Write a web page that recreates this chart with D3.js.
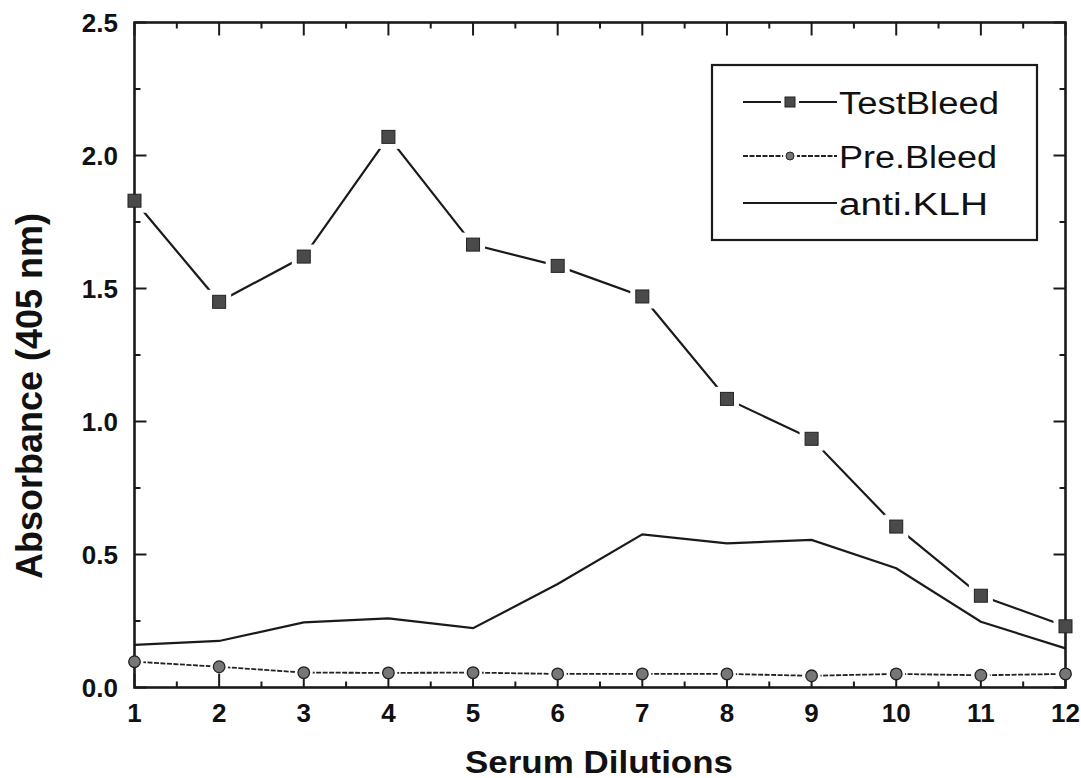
<!DOCTYPE html>
<html>
<head>
<meta charset="utf-8">
<script src="https://cdn.jsdelivr.net/npm/d3@7"></script>
<style>
  html, body { margin: 0; padding: 0; background: #fff; }
  svg { display: block; }
  text { font-family: "Liberation Sans", Arial, sans-serif; fill: #111; }
</style>
</head>
<body>
<svg id="chart" width="1081" height="778"></svg>
<script>
// ---- data ----
const dilutions = [1, 2, 3, 4, 5, 6, 7, 8, 9, 10, 11, 12];
const testBleed = [1.83, 1.45, 1.62, 2.07, 1.665, 1.585, 1.47, 1.085, 0.935, 0.605, 0.345, 0.23];
const preBleed  = [0.097, 0.078, 0.056, 0.055, 0.056, 0.051, 0.051, 0.051, 0.044, 0.051, 0.046, 0.051];
const antiKLH   = [0.16, 0.175, 0.245, 0.26, 0.223, 0.389, 0.576, 0.542, 0.555, 0.448, 0.247, 0.147];
const yTicks = [0.0, 0.5, 1.0, 1.5, 2.0, 2.5];
const yTickLabels = ["0.0", "0.5", "1.0", "1.5", "2.0", "2.5"];
const seriesNames = ["TestBleed", "Pre.Bleed", "anti.KLH"];
const xTitle = "Serum Dilutions";
const yTitle = "Absorbance (405 nm)";

// ---- layout ----
const svg = d3.select("#chart");
const L = 134.5, R = 1065.5, T = 22.5, B = 687.5;
const x = d3.scaleLinear().domain([1, 12]).range([L, R]);
const y = d3.scaleLinear().domain([0, 2.5]).range([B, T]);

const ink = "#1a1a1a";

// ---- lines ----
const line = d3.line().x(d => x(d[0])).y(d => y(d[1]));
const zip = arr => dilutions.map((d, i) => [d, arr[i]]);

svg.append("path").datum(zip(antiKLH)).attr("d", line)
  .attr("fill", "none").attr("stroke", ink).attr("stroke-width", 2.2);

svg.append("path").datum(zip(preBleed)).attr("d", line)
  .attr("fill", "none").attr("stroke", "#222").attr("stroke-width", 1.8)
  .attr("stroke-dasharray", "5,1.5");

svg.append("path").datum(zip(testBleed)).attr("d", line)
  .attr("fill", "none").attr("stroke", ink).attr("stroke-width", 2.2);

// halos (gaps around markers)
svg.append("g").selectAll("rect").data(zip(testBleed)).join("rect")
  .attr("x", d => x(d[0]) - 12).attr("y", d => y(d[1]) - 12)
  .attr("width", 24).attr("height", 24).attr("fill", "#fff");
svg.append("g").selectAll("circle").data(zip(preBleed)).join("circle")
  .attr("cx", d => x(d[0])).attr("cy", d => y(d[1])).attr("r", 9).attr("fill", "#fff");

// ---- axes / frame ----
const axisW = 2.6;
const majorX = dilutions;
const minorX = d3.range(1.5, 12, 1);
const majorY = yTicks;
const minorY = d3.range(0.25, 2.5, 0.5);
const ticks = svg.append("g").attr("stroke", ink);

ticks.selectAll(".bM").data(majorX).join("line")
  .attr("x1", d => x(d)).attr("x2", d => x(d)).attr("y1", B).attr("y2", B - 14).attr("stroke-width", 2);
ticks.selectAll(".bm").data(minorX).join("line")
  .attr("x1", d => x(d)).attr("x2", d => x(d)).attr("y1", B).attr("y2", B - 6).attr("stroke-width", 2);
ticks.selectAll(".tM").data(majorX).join("line")
  .attr("x1", d => x(d)).attr("x2", d => x(d)).attr("y1", T).attr("y2", T + 13).attr("stroke-width", 2);
ticks.selectAll(".tm").data(minorX).join("line")
  .attr("x1", d => x(d)).attr("x2", d => x(d)).attr("y1", T).attr("y2", T + 6).attr("stroke-width", 2);
ticks.selectAll(".lM").data(majorY).join("line")
  .attr("x1", L).attr("x2", L + 12).attr("y1", d => y(d)).attr("y2", d => y(d)).attr("stroke-width", 2);
ticks.selectAll(".lm").data(minorY).join("line")
  .attr("x1", L).attr("x2", L + 6).attr("y1", d => y(d)).attr("y2", d => y(d)).attr("stroke-width", 2);
ticks.selectAll(".rM").data(majorY).join("line")
  .attr("x1", R).attr("x2", R - 12).attr("y1", d => y(d)).attr("y2", d => y(d)).attr("stroke-width", 2);
ticks.selectAll(".rm").data(minorY).join("line")
  .attr("x1", R).attr("x2", R - 6).attr("y1", d => y(d)).attr("y2", d => y(d)).attr("stroke-width", 2);

svg.append("rect").attr("x", L).attr("y", T).attr("width", R - L).attr("height", B - T)
  .attr("fill", "none").attr("stroke", ink).attr("stroke-width", axisW);

// tick labels
svg.append("g").selectAll("text").data(majorX).join("text")
  .attr("x", d => x(d)).attr("y", 722).attr("text-anchor", "middle")
  .attr("font-size", 26).attr("font-weight", "bold").text(d => d);
svg.append("g").selectAll("text").data(majorY).join("text")
  .attr("x", 118).attr("y", d => y(d) + 9).attr("text-anchor", "end")
  .attr("font-size", 26).attr("font-weight", "bold").text((d, i) => yTickLabels[i]);

// axis titles
svg.append("text").attr("x", 599).attr("y", 772.5).attr("text-anchor", "middle")
  .attr("font-size", 32).attr("font-weight", "bold")
  .attr("textLength", 268).attr("lengthAdjust", "spacingAndGlyphs").text(xTitle);
svg.append("text").attr("transform", "translate(42,396) rotate(-90)").attr("text-anchor", "middle")
  .attr("font-size", 36).attr("font-weight", "bold").text(yTitle);

// ---- markers ----
svg.append("g").selectAll("rect").data(zip(testBleed)).join("rect")
  .attr("x", d => x(d[0]) - 6.5).attr("y", d => y(d[1]) - 6.5)
  .attr("width", 13).attr("height", 13)
  .attr("fill", "#4a4a4a").attr("stroke", "#222").attr("stroke-width", 1);
svg.append("g").selectAll("circle").data(zip(preBleed)).join("circle")
  .attr("cx", d => x(d[0])).attr("cy", d => y(d[1])).attr("r", 5.8)
  .attr("fill", "#777").attr("stroke", "#222").attr("stroke-width", 1.3);

// ---- legend ----
const lg = svg.append("g");
lg.append("rect").attr("x", 712).attr("y", 65).attr("width", 325).attr("height", 175)
  .attr("fill", "#fff").attr("stroke", ink).attr("stroke-width", 2.2);
const legRows = [
  { name: seriesNames[0], y: 102, w: 160, type: "square" },
  { name: seriesNames[1], y: 156, w: 158, type: "circle" },
  { name: seriesNames[2], y: 203, w: 149, type: "none" }
];
legRows.forEach(r => {
  const dash = r.type === "circle" ? "5,1.5" : null;
  lg.append("line").attr("x1", 743).attr("x2", 837).attr("y1", r.y).attr("y2", r.y)
    .attr("stroke", r.type === "circle" ? "#222" : ink)
    .attr("stroke-width", r.type === "circle" ? 1.8 : 2.2)
    .attr("stroke-dasharray", dash);
  if (r.type === "square") {
    lg.append("rect").attr("x", 790 - 9).attr("y", r.y - 9).attr("width", 18).attr("height", 18).attr("fill", "#fff");
    lg.append("rect").attr("x", 790 - 5).attr("y", r.y - 5).attr("width", 10).attr("height", 10)
      .attr("fill", "#4a4a4a").attr("stroke", "#222").attr("stroke-width", 1);
  } else if (r.type === "circle") {
    lg.append("circle").attr("cx", 790).attr("cy", r.y).attr("r", 7).attr("fill", "#fff");
    lg.append("circle").attr("cx", 790).attr("cy", r.y).attr("r", 4)
      .attr("fill", "#777").attr("stroke", "#222").attr("stroke-width", 1);
  }
  lg.append("text").attr("x", 839).attr("y", r.y + 12).attr("font-size", 31)
    .attr("textLength", r.w).attr("lengthAdjust", "spacingAndGlyphs").text(r.name);
});
</script>
</body>
</html>
